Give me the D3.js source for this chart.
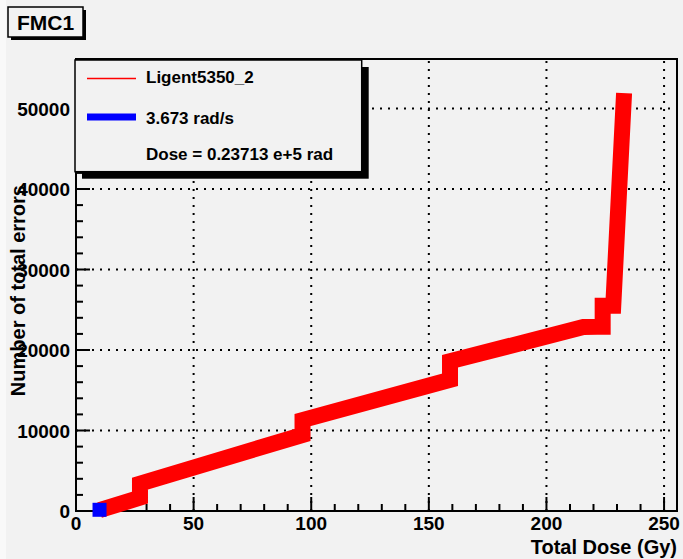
<!DOCTYPE html>
<html><head><meta charset="utf-8">
<script src="https://cdn.jsdelivr.net/npm/d3@7"></script>
<style>
html,body{margin:0;padding:0;background:#f2f2f2;}
svg{display:block;}
text{font-family:"Liberation Sans",Arial,Helvetica,sans-serif;font-weight:bold;fill:#000;}
</style></head>
<body>
<svg id="c" width="683" height="559"></svg>
<script>
// ---- data ----
const seriesName = "Ligent5350_2";
const rateLabel = "3.673 rad/s";
const doseLabel = "Dose = 0.23713 e+5 rad";
const titleText = "FMC1";
const xTitle = "Total Dose (Gy)";
const yTitle = "Number of total errors";
const xTicks = [0, 50, 100, 150, 200, 250];
const yTicks = [0, 10000, 20000, 30000, 40000, 50000];
const doseGy = [10, 27.2, 27.2, 96.3, 96.3, 159, 159, 215.7, 221.5, 223.9, 223.9, 228.4, 233];
const errors = [100, 1650, 3400, 9450, 11300, 16300, 18600, 22850, 22900, 22900, 25500, 25500, 51900];
const startDose = [10];
const startErrors = [150];

const svg = d3.select("#c");
svg.append("rect").attr("x",0).attr("y",0).attr("width",683).attr("height",559).attr("fill","#f2f2f2");
svg.append("rect").attr("x",0).attr("y",0).attr("width",6).attr("height",559).attr("fill","#f9f9f9");

const L = 76, R = 677, T = 59, B = 511;
const x = d3.scaleLinear().domain([0, 255.5]).range([L, R]);
const y = d3.scaleLinear().domain([0, 56150]).range([B, T]);

// grid
const g = svg.append("g");
g.selectAll("line.gx").data(xTicks.filter(d=>d>0)).enter().append("line")
  .attr("x1",d=>x(d)).attr("x2",d=>x(d)).attr("y1",B).attr("y2",T)
  .attr("stroke","#000").attr("stroke-width",2).attr("stroke-dasharray","2,6");
g.selectAll("line.gy").data(yTicks.filter(d=>d>0)).enter().append("line")
  .attr("y1",d=>y(d)).attr("y2",d=>y(d)).attr("x1",L).attr("x2",R)
  .attr("stroke","#000").attr("stroke-width",2).attr("stroke-dasharray","2,6");

// ticks (inside)
const xMinor = d3.range(0, 256, 10);
const yMinor = d3.range(0, 56001, 2000);
g.selectAll("line.xm").data(xMinor).enter().append("line")
  .attr("x1",d=>x(d)).attr("x2",d=>x(d)).attr("y1",B).attr("y2",d=>B-(d%50===0?14:7))
  .attr("stroke","#000").attr("stroke-width",2);
g.selectAll("line.ym").data(yMinor).enter().append("line")
  .attr("y1",d=>y(d)).attr("y2",d=>y(d)).attr("x1",L).attr("x2",d=>L+(d%10000===0?14:7))
  .attr("stroke","#000").attr("stroke-width",2);

// frame
svg.append("rect").attr("x",L).attr("y",T).attr("width",R-L).attr("height",B-T)
  .attr("fill","none").attr("stroke","#000").attr("stroke-width",2);

// tick labels
svg.selectAll("text.xl").data(xTicks).enter().append("text")
  .attr("x",d=>x(d)).attr("y",530).attr("text-anchor","middle").attr("font-size",19).text(d=>d);
svg.selectAll("text.yl").data(yTicks).enter().append("text")
  .attr("x",70).attr("y",d=>y(d)+7).attr("text-anchor","end").attr("font-size",19).text(d=>d);

// axis titles
svg.append("text").attr("x",677).attr("y",554).attr("text-anchor","end").attr("font-size",20).text(xTitle);
svg.append("text").attr("transform","translate(25,185) rotate(-90)").attr("text-anchor","end").attr("font-size",20).text(yTitle);

// data line
const pts = doseGy.map((d,i)=>[d, errors[i]]);
const line = d3.line().x(d=>x(d[0])).y(d=>y(d[1]));
svg.append("path").datum(pts).attr("d",line).attr("fill","none")
  .attr("stroke","#ff0000").attr("stroke-width",16).attr("stroke-linejoin","miter").attr("stroke-miterlimit",10);
svg.selectAll("rect.m").data(startDose).enter().append("rect")
  .attr("x",d=>x(d)-7).attr("y",(d,i)=>y(startErrors[i])-7).attr("width",14).attr("height",14).attr("fill","#0000ff");

// legend
const lg = svg.append("g");
lg.append("rect").attr("x",82).attr("y",67).attr("width",286.7).attr("height",111.7).attr("fill","#000");
lg.append("rect").attr("x",75).attr("y",60).attr("width",286.7).attr("height",111.7).attr("fill","#f2f2f2").attr("stroke","#000").attr("stroke-width",1.5);
lg.append("line").attr("x1",87).attr("x2",136).attr("y1",78.5).attr("y2",78.5).attr("stroke","#ff0000").attr("stroke-width",1.5);
lg.append("text").attr("x",146).attr("y",82.5).attr("font-size",17).text(seriesName);
lg.append("line").attr("x1",87).attr("x2",136).attr("y1",117).attr("y2",117).attr("stroke","#0000ff").attr("stroke-width",7);
lg.append("text").attr("x",146).attr("y",123.5).attr("font-size",17).text(rateLabel);
lg.append("text").attr("x",146).attr("y",159.5).attr("font-size",17).text(doseLabel);

// title box
svg.append("rect").attr("x",11).attr("y",10).attr("width",75).attr("height",30).attr("fill","#000");
svg.append("rect").attr("x",8).attr("y",7).attr("width",75).attr("height",30).attr("fill","#f2f2f2").attr("stroke","#000").attr("stroke-width",1.5);
svg.append("text").attr("x",45.5).attr("y",30).attr("text-anchor","middle").attr("font-size",21).text(titleText);
</script>
</body></html>
